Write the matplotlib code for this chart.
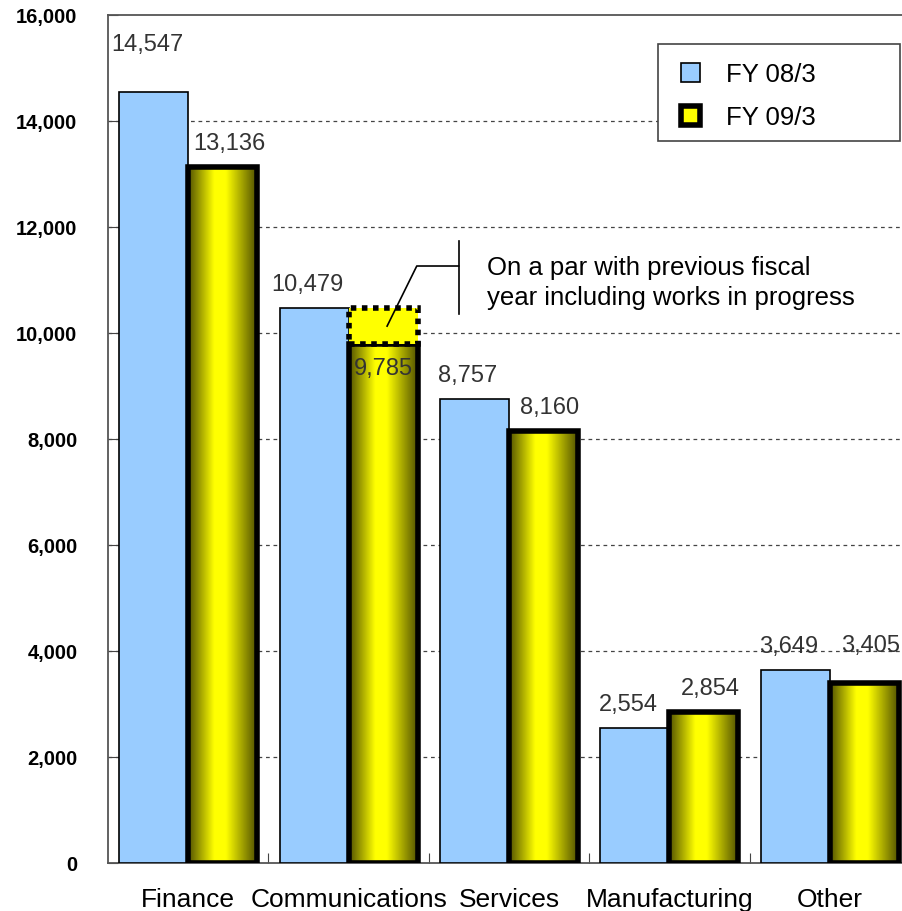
import matplotlib.pyplot as plt
import numpy as np
from matplotlib.patches import Rectangle, Patch
from matplotlib.colors import LinearSegmentedColormap

plt.rcParams['font.family'] = ['Liberation Sans', 'DejaVu Sans']

# data
categories = ['Finance', 'Communications', 'Services', 'Manufacturing', 'Other']
fy08 = [14547, 10479, 8757, 2554, 3649]
fy09 = [13136, 9785, 8160, 2854, 3405]
series_names = ['FY 08/3', 'FY 09/3']
wip_level = 10479  # Communications FY09 including works in progress
note = 'On a par with previous fiscal\nyear including works in progress'
yticks = np.arange(0, 16001, 2000)

fig = plt.figure(figsize=(9.02, 9.12), dpi=100)
ax = fig.add_axes([108 / 902, 1 - 864 / 912, 802 / 902, 848 / 912])

x = np.arange(len(categories))
w = 0.43

# blue bars
ax.bar(x - w / 2, fy08, width=w, color='#99CCFF', edgecolor='black', linewidth=1.2, zorder=3)

# yellow bars with horizontal gradient
cmap = LinearSegmentedColormap.from_list('gold', [(0.0, '#505000'), (0.38, '#ffff00'),
                                                  (0.55, '#ffff00'), (1.0, '#505000')])
grad = np.linspace(0, 1, 256).reshape(1, -1)
bars = ax.bar(x + w / 2, fy09, width=w, facecolor='none', edgecolor='black', linewidth=4, zorder=4)
for b in bars:
    im = ax.imshow(grad, cmap=cmap, aspect='auto', zorder=3,
                   extent=[b.get_x(), b.get_x() + b.get_width(), 0, b.get_height()])
    im.set_clip_path(b)

# works-in-progress box on Communications
ax.add_patch(Rectangle((1, fy09[1]), w, wip_level - fy09[1],
                       facecolor='#ffff00', edgecolor='black', linewidth=4,
                       linestyle=(0, (1, 1)), zorder=4))

# annotation leader
ax.plot([1.24, 1.425, 1.686], [10130, 11264, 11264], color='black', lw=1.2, zorder=5)
ax.plot([1.686, 1.686], [10360, 11740], color='black', lw=1.2, zorder=5)
ax.text(1.86, 10962, note, fontsize=18.5, ha='left', va='center', linespacing=1.3, zorder=5)

# value labels
lab_kw = dict(fontsize=17, color='#333333', ha='center', va='center', zorder=6)
off08 = [900, 450, 450, 450, 450]
off09 = [450, -450, 450, 450, 700]
for i in range(len(categories)):
    ax.text(x[i] - w / 2 - 0.04, fy08[i] + off08[i], f'{fy08[i]:,}', **lab_kw)
    ax.text(x[i] + w / 2 + 0.04 * (i != 1), fy09[i] + off09[i], f'{fy09[i]:,}', **lab_kw)

ax.set_xlim(-0.5, 4.5)
ax.set_ylim(0, 16000)

# grid
for yv in yticks[1:-1]:
    ax.axhline(yv, color='#444444', lw=0.9, ls=(0, (3, 3)), zorder=1)

ax.set_yticks(yticks)
ax.set_yticklabels([f'{v:,}' for v in yticks], fontsize=14.5, fontweight='bold')
ax.tick_params(axis='y', direction='in', length=7, pad=22, color='#444444')

ax.set_xticks(x + 0.5)
ax.set_xticklabels([])
ax.tick_params(axis='x', which='major', direction='in', length=7, color='#444444')
ax.set_xticks(x, minor=True)
ax.set_xticklabels(categories, minor=True, fontsize=19)
ax.tick_params(axis='x', which='minor', length=0, pad=17)

for s in ['left', 'bottom', 'top']:
    ax.spines[s].set_color('#555555')
    ax.spines[s].set_linewidth(1.3)
ax.spines['right'].set_visible(False)

# legend
handles = [Patch(facecolor='#99CCFF', edgecolor='black', linewidth=1.2),
           Patch(facecolor='#ffff00', edgecolor='black', linewidth=4)]
fig.patches.append(Rectangle((658 / 902, 1 - 142 / 912), 242 / 902, 97 / 912,
                             transform=fig.transFigure, facecolor='white',
                             edgecolor='#444444', linewidth=1.2, zorder=10))
leg = fig.legend(handles, series_names, loc='upper left',
                 bbox_to_anchor=(658 / 902, 1 - 40 / 912), frameon=False,
                 fontsize=18.5, handlelength=0.75, handleheight=0.75,
                 handletextpad=1.0, labelspacing=0.75)
leg.set_zorder(11)

fig.savefig('out.png', dpi=100)
